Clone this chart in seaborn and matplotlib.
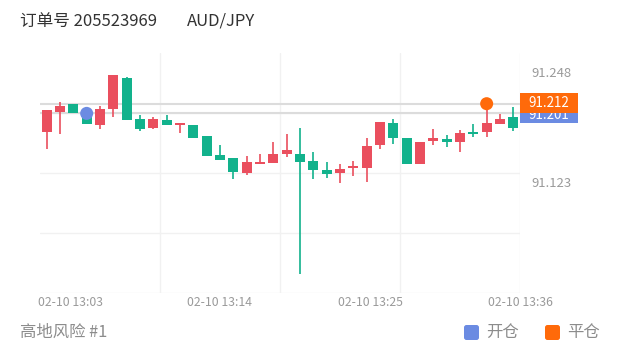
import numpy as np
import pandas as pd
import matplotlib
matplotlib.use("Agg")
import matplotlib.pyplot as plt
from matplotlib.patches import Rectangle, FancyBboxPatch
import seaborn as sns

# ---------------- data ----------------
opens  = [91.180, 91.202, 91.212, 91.199, 91.188, 91.206, 91.241, 91.195, 91.184, 91.194,
          91.188, 91.188, 91.175, 91.154, 91.150, 91.133, 91.144, 91.145, 91.155, 91.155,
          91.147, 91.137, 91.133, 91.139, 91.139, 91.165, 91.190, 91.173, 91.143, 91.170,
          91.172, 91.168, 91.180, 91.180, 91.189, 91.197]
highs  = [91.205, 91.214, 91.212, 91.201, 91.209, 91.245, 91.242, 91.199, 91.197, 91.199,
          91.190, 91.188, 91.175, 91.165, 91.150, 91.152, 91.155, 91.168, 91.177, 91.184,
          91.157, 91.146, 91.143, 91.147, 91.173, 91.191, 91.195, 91.173, 91.168, 91.183,
          91.176, 91.182, 91.189, 91.209, 91.200, 91.208]
lows   = [91.161, 91.178, 91.201, 91.189, 91.183, 91.197, 91.194, 91.181, 91.183, 91.188,
          91.179, 91.173, 91.152, 91.148, 91.126, 91.131, 91.144, 91.145, 91.151, 91.019,
          91.126, 91.128, 91.122, 91.130, 91.123, 91.161, 91.166, 91.143, 91.143, 91.165,
          91.163, 91.157, 91.174, 91.174, 91.189, 91.181]
closes = [91.205, 91.209, 91.201, 91.189, 91.206, 91.245, 91.194, 91.183, 91.195, 91.188,
          91.190, 91.173, 91.153, 91.148, 91.134, 91.146, 91.145, 91.155, 91.159, 91.146,
          91.137, 91.132, 91.138, 91.141, 91.164, 91.191, 91.173, 91.143, 91.168, 91.173,
          91.168, 91.179, 91.178, 91.190, 91.195, 91.184]

x_tick_pos = [1.75, 13.0, 24.25, 35.5]
x_tick_labels = ["02-10 13:03", "02-10 13:14", "02-10 13:25", "02-10 13:36"]
y_tick_vals = [91.248, 91.123]

open_idx, open_price = 3, 91.201
close_idx, close_price = 33, 91.212

title_order = "订单号 205523969"
title_pair = "AUD/JPY"
footer = "高地风险 #1"
legend_labels = ["开仓", "平仓"]

RED = "#ea4f5e"
GREEN = "#12b28c"
BLUE = "#6b8be2"
ORANGE = "#ff6a0a"

# ---------------- style ----------------
sns.set_theme(style="white")
plt.rcParams["font.family"] = ["Noto Sans CJK SC", "DejaVu Sans"]

W, H = 620, 352
fig = plt.figure(figsize=(W / 100, H / 100), dpi=100)
ax = fig.add_axes([40 / W, (H - 293) / H, 480 / W, 240 / H])

xlo, xhi = -0.5, 35.5
ylo, yhi = 90.9969, 91.2696
ax.set_xlim(xlo, xhi)
ax.set_ylim(ylo, yhi)
for s in ax.spines.values():
    s.set_visible(False)

# grid
for f in [0.0, 0.25, 0.5, 0.75]:
    ax.plot([0, 1], [f, f], transform=ax.transAxes, color="#f1f1f1", lw=1.0, zorder=0)
for xv in [8.5, 17.5, 26.5, 35.5]:
    ax.axvline(xv, color="#f1f1f1", lw=1.0, zorder=0)

# price lines
ax.axhline(close_price, color="#dcdcdc", lw=1.5, zorder=1)
ax.axhline(open_price, color="#dcdcdc", lw=1.5, zorder=1)

# candles
df = pd.DataFrame({"i": np.arange(len(opens)), "o": opens, "h": highs, "l": lows, "c": closes})
for _, r in df.iterrows():
    col = RED if r.c >= r.o else GREEN
    ax.vlines(r.i, r.l, r.h, color=col, lw=1.2, zorder=2)
    body = max(abs(r.c - r.o), 0.0016)
    bot = min(r.o, r.c)
    if abs(r.c - r.o) < 0.0016:
        bot = (r.o + r.c) / 2 - 0.0008
    ax.bar(r.i, body, bottom=bot, width=0.76, color=col, linewidth=0, zorder=3)

# markers
mk = pd.DataFrame({"x": [open_idx, close_idx], "y": [open_price, close_price], "k": legend_labels})
sns.scatterplot(data=mk, x="x", y="y", hue="k", palette=[BLUE, ORANGE], s=88,
                edgecolor="none", legend=False, ax=ax, zorder=5)

# axes ticks
ax.set_xticks(x_tick_pos)
ax.set_xticklabels(x_tick_labels)
ax.yaxis.tick_right()
ax.set_yticks(y_tick_vals)
ax.set_yticklabels([f"{v:.3f}" for v in y_tick_vals])
ax.tick_params(axis="x", length=0, pad=2, labelsize=8.8, labelcolor="#9a9a9a")
ax.tick_params(axis="y", length=0, pad=8, labelsize=9.4, labelcolor="#9a9a9a")
ax.set_xlabel("")
ax.set_ylabel("")

# right-side price boxes
ppx = (yhi - ylo) / 240.0
bt = ax.get_yaxis_transform()
blue_box = Rectangle((1.0, open_price - 10 * ppx), 58 / 480, 20 * ppx, transform=bt,
                     facecolor=BLUE, edgecolor="none", clip_on=False, zorder=6)
ax.add_patch(blue_box)
visible = Rectangle((1.0, open_price - 10 * ppx), 58 / 480, 9 * ppx, transform=bt,
                    facecolor="none", edgecolor="none")
ax.add_patch(visible)
bt_txt = ax.text(1.0 + 8 / 480, open_price - 2 * ppx, f"{open_price:.3f}", transform=bt,
                 ha="left", va="center", color="white", fontsize=9.6, zorder=7)
bt_txt.set_clip_path(visible)
ax.add_patch(Rectangle((1.0, close_price - 9 * ppx), 58 / 480, 20 * ppx, transform=bt,
                       facecolor=ORANGE, edgecolor="none", clip_on=False, zorder=8))
ax.text(1.0 + 8 / 480, close_price + 1 * ppx, f"{close_price:.3f}", transform=bt, ha="left",
        va="center", color="white", fontsize=9.6, clip_on=False, zorder=9)

# overlay for header / footer
ov = fig.add_axes([0, 0, 1, 1], zorder=10)
ov.set_xlim(0, W)
ov.set_ylim(H, 0)
ov.axis("off")
ov.patch.set_alpha(0)
ov.text(20, 21, title_order, ha="left", va="center", fontsize=12, color="#333333")
ov.text(187, 21, title_pair, ha="left", va="center", fontsize=12, color="#333333")
ov.text(20, 332, footer, ha="left", va="center", fontsize=11.8, color="#8c8c8c")
ov.add_patch(FancyBboxPatch((464, 325), 15, 15, boxstyle="round,pad=0,rounding_size=2.5",
                            facecolor=BLUE, edgecolor="none"))
ov.text(486, 332, legend_labels[0], ha="left", va="center", fontsize=11.8, color="#8c8c8c")
ov.add_patch(FancyBboxPatch((545, 325), 15, 15, boxstyle="round,pad=0,rounding_size=2.5",
                            facecolor=ORANGE, edgecolor="none"))
ov.text(567, 332, legend_labels[1], ha="left", va="center", fontsize=11.8, color="#8c8c8c")

fig.savefig("out.png", dpi=100)
